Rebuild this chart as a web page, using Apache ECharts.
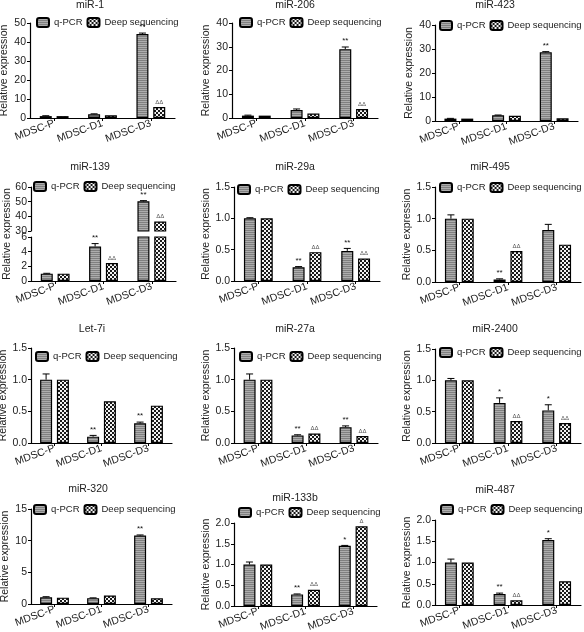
<!DOCTYPE html>
<html><head><meta charset="utf-8">
<script src="https://cdn.jsdelivr.net/npm/echarts@6/dist/echarts.min.js"></script>
<style>html,body{margin:0;padding:0;background:#fff}#c{width:584px;height:632px}</style>
</head><body><div id="c"></div>
<script>
// ---------------- DATA ----------------
const categories = ['MDSC-P', 'MDSC-D1', 'MDSC-D3'];
const seriesNames = ['q-PCR', 'Deep sequencing'];
const panelTitles = ['miR-1','miR-206','miR-423','miR-139','miR-29a','miR-495','Let-7i','miR-27a','miR-2400','miR-320','miR-133b','miR-487'];
const yAxisName = 'Relative expression';
const qpcr = [
  [1.0, 2.0, 44.2],
  [1.0, 3.4, 29.0],
  [1.0, 2.4, 28.6],
  [1.0, 4.7, 50.2],
  [1.0, 0.22, 0.48],
  [1.0, 0.04, 0.82],
  [1.0, 0.10, 0.31],
  [1.0, 0.12, 0.25],
  [1.0, 0.64, 0.52],
  [1.05, 0.92, 10.8],
  [1.0, 0.28, 1.45],
  [1.0, 0.26, 1.53]
];
const qpcrErr = [
  [0.2, 0.2, 0.5],
  [0.2, 0.4, 0.9],
  [0.1, 0.1, 0.3],
  [0.05, 0.4, 0.5],
  [0.01, 0.01, 0.04],
  [0.06, 0.01, 0.09],
  [0.09, 0.02, 0.02],
  [0.09, 0.01, 0.02],
  [0.03, 0.08, 0.09],
  [0.1, 0.05, 0.1],
  [0.06, 0.01, 0.01],
  [0.08, 0.02, 0.03]
];
const deepSeq = [
  [1.0, 1.4, 5.8],
  [1.0, 1.9, 3.8],
  [1.0, 2.2, 1.1],
  [1.0, 2.45, 36.5],
  [1.0, 0.46, 0.36],
  [1.0, 0.49, 0.59],
  [1.0, 0.66, 0.59],
  [1.0, 0.15, 0.11],
  [1.0, 0.35, 0.32],
  [1.0, 1.35, 0.9],
  [1.0, 0.39, 1.92],
  [1.0, 0.11, 0.56]
];
const qpcrMarks = [
  ['', '', '**'], ['', '', '**'], ['', '', '**'], ['', '**', '**'],
  ['', '**', '**'], ['', '**', ''], ['', '**', '**'], ['', '**', '**'],
  ['', '*', '*'], ['', '', '**'], ['', '**', '*'], ['', '**', '*']
];
const deepMarks = [
  ['', '', 'ΔΔ'], ['', '', 'ΔΔ'], ['', '', ''], ['', 'ΔΔ', 'ΔΔ'],
  ['', 'ΔΔ', 'ΔΔ'], ['', 'ΔΔ', ''], ['', '', ''], ['', 'ΔΔ', 'ΔΔ'],
  ['', 'ΔΔ', 'ΔΔ'], ['', '', ''], ['', 'ΔΔ', 'Δ'], ['', 'ΔΔ', '']
];
const yMax = [50, 40, 40, 60, 1.5, 1.5, 1.5, 1.5, 1.5, 15, 2, 2];
const yInterval = [10, 10, 10, 10, 0.5, 0.5, 0.5, 0.5, 0.5, 5, 0.5, 0.5];
const yDecimals = [0, 0, 0, 0, 1, 1, 1, 1, 1, 0, 1, 1];
const brokenPanel = 3;
const brokenLower = [0, 6, 2];     // min, max, interval
const brokenUpper = [30, 60, 10];  // min, max, interval

// ---------------- LAYOUT (style) ----------------
const layout = [
  {g:[30,23,145,95],  t:[90,0],   l:[36,17]},
  {g:[232,23,146,95], t:[295,0],  l:[239,17]},
  {g:[435,25,143,96], t:[495,0],  l:[439,20]},
  {g:[31,237,145,44], gu:[31,187,145,44], t:[90,162], l:[33,181]},
  {g:[234,187,146,94],t:[295,162],l:[237,184]},
  {g:[435,187,146,95],t:[490,162],l:[439,182]},
  {g:[31,348,141,95], t:[92,324], l:[35,351]},
  {g:[234,348,144,95],t:[295,324],l:[239,351]},
  {g:[435,349,146,94],t:[495,324],l:[439,347]},
  {g:[31,509,141,95], t:[88,484], l:[33,504]},
  {g:[234,523,143,83],t:[295,493],l:[238,507]},
  {g:[435,520,146,85],t:[495,485],l:[440,504]}
];
const BAR_W = 12, GAP_RATIO = 0.4;
const FONT = 'Liberation Sans, Arial, Helvetica, sans-serif';
const TXT = '#222';

function makeStripe() {
  const c = document.createElement('canvas'); c.width = 4; c.height = 2;
  const g = c.getContext('2d');
  g.fillStyle = '#adadad'; g.fillRect(0, 0, 4, 2);
  g.fillStyle = '#808080'; g.fillRect(0, 0, 4, 1);
  return c;
}
function makeChecker() {
  const c = document.createElement('canvas'); c.width = 4; c.height = 4;
  const g = c.getContext('2d');
  g.fillStyle = '#f4f4f4'; g.fillRect(0, 0, 4, 4);
  g.fillStyle = '#1a1a1a'; g.fillRect(0, 0, 2, 2); g.fillRect(2, 2, 2, 2);
  return c;
}
const fills = [
  {image: makeStripe(), repeat: 'repeat'},
  {image: makeChecker(), repeat: 'repeat'}
];

const grids = [], xAxes = [], yAxes = [], series = [], titles = [], legends = [], graphics = [];

function makeRenderer(p) {
  return function (params, api) {
    const cat = api.value(0), val = api.value(1), err = api.value(2), which = api.value(3);
    const off = (which === 0 ? -1 : 1) * BAR_W * (1 + GAP_RATIO) / 2;
    const base = api.coord([cat, val]);
    const top = api.coord([cat, val + err]);
    const x = base[0] + off;
    const children = [];
    if (err > 0) {
      children.push({type: 'line', shape: {x1: x, y1: base[1], x2: x, y2: top[1]}, style: {stroke: '#000', lineWidth: 1}});
      children.push({type: 'line', shape: {x1: x - 3.5, y1: top[1], x2: x + 3.5, y2: top[1]}, style: {stroke: '#000', lineWidth: 1}});
    }
    const mark = which === 0 ? qpcrMarks[p][cat] : deepMarks[p][cat];
    if (mark) {
      const isDelta = mark.indexOf('Δ') >= 0;
      children.push({type: 'text', style: {
        text: mark, x: x, y: top[1] - 2, align: 'center', verticalAlign: 'bottom',
        fontSize: isDelta ? 6 : 8, fontFamily: FONT, fill: isDelta ? '#555' : '#111'
      }});
    }
    return {type: 'group', children: children};
  };
}

function addPanel(p, rect, min, max, interval, dec, showX, showName, filter) {
  const gi = grids.length;
  grids.push({left: rect[0], top: rect[1], width: rect[2], height: rect[3], containLabel: false, outerBoundsMode: 'none'});
  xAxes.push({
    type: 'category', gridIndex: gi, data: categories, show: showX,
    axisLine: {show: true, lineStyle: {color: '#000', width: 1.2}},
    axisTick: {show: true, alignWithLabel: true, length: 3, lineStyle: {color: '#000'}},
    axisLabel: {interval: 0, rotate: 20, fontSize: 10.5, color: TXT, fontFamily: FONT, margin: 5}
  });
  yAxes.push({
    type: 'value', gridIndex: gi, min: min, max: max, interval: interval,
    axisLine: {show: true, lineStyle: {color: '#000', width: 1.2}},
    axisTick: {show: true, length: 3, lineStyle: {color: '#000'}},
    splitLine: {show: false},
    axisLabel: {fontSize: 10.5, color: TXT, fontFamily: FONT, margin: 4,
      formatter: function (v) { return v.toFixed(dec); }},
    name: showName ? yAxisName : '', nameLocation: 'middle', nameGap: 20,
    nameTextStyle: {fontSize: 10.5, color: TXT, fontFamily: FONT}
  });
  const vals = [qpcr[p], deepSeq[p]];
  vals.forEach(function (arr, s) {
    series.push({
      type: 'bar', name: seriesNames[s], xAxisIndex: gi, yAxisIndex: gi,
      data: arr.map(function (v) { return filter(v) === 'hide' ? '-' : v; }),
      barWidth: BAR_W, barGap: (GAP_RATIO * 100) + '%',
      itemStyle: {color: fills[s], borderColor: '#000', borderWidth: 1.2},
      emphasis: {disabled: true}, silent: true
    });
  });
  const items = [];
  categories.forEach(function (c, ci) {
    if (filter(qpcr[p][ci]) === 'show') items.push([ci, qpcr[p][ci], qpcrErr[p][ci], 0]);
    if (filter(deepSeq[p][ci]) === 'show') items.push([ci, deepSeq[p][ci], 0, 1]);
  });
  series.push({
    type: 'custom', xAxisIndex: gi, yAxisIndex: gi, data: items, silent: true, z: 5,
    encode: {x: 0, y: 1}, renderItem: makeRenderer(p)
  });
}

panelTitles.forEach(function (name, p) {
  const L = layout[p];
  titles.push({text: name, left: L.t[0], top: L.t[1], textAlign: 'center', padding: 0,
    textStyle: {fontSize: 10.5, fontWeight: 'normal', color: TXT, fontFamily: FONT}});
  legends.push({data: seriesNames, left: L.l[0], top: L.l[1], padding: 0, itemGap: 4,
    width: 260, orient: 'horizontal',
    itemWidth: 12, itemHeight: 9, selectedMode: false,
    textStyle: {fontSize: 9.5, color: TXT, fontFamily: FONT}});
  if (p === brokenPanel) {
    addPanel(p, L.g, brokenLower[0], brokenLower[1], brokenLower[2], 0, true, false,
      function (v) { return v <= brokenLower[1] ? 'show' : 'clip'; });
    addPanel(p, L.gu, brokenUpper[0], brokenUpper[1], brokenUpper[2], 0, false, false,
      function (v) { return v > brokenUpper[0] ? 'show' : 'hide'; });
    graphics.push({type: 'text', x: 7, y: 234, rotation: Math.PI / 2,
      style: {text: yAxisName, fontSize: 10.5, fill: TXT, fontFamily: FONT, align: 'center', verticalAlign: 'middle'}});
  } else {
    addPanel(p, L.g, 0, yMax[p], yInterval[p], yDecimals[p], true, true,
      function () { return 'show'; });
  }
});

const chart = echarts.init(document.getElementById('c'), null, {renderer: 'canvas'});
chart.setOption({
  animation: false,
  backgroundColor: '#fff',
  textStyle: {fontFamily: FONT},
  title: titles, legend: legends, grid: grids,
  xAxis: xAxes, yAxis: yAxes, series: series, graphic: graphics
});
</script></body></html>
